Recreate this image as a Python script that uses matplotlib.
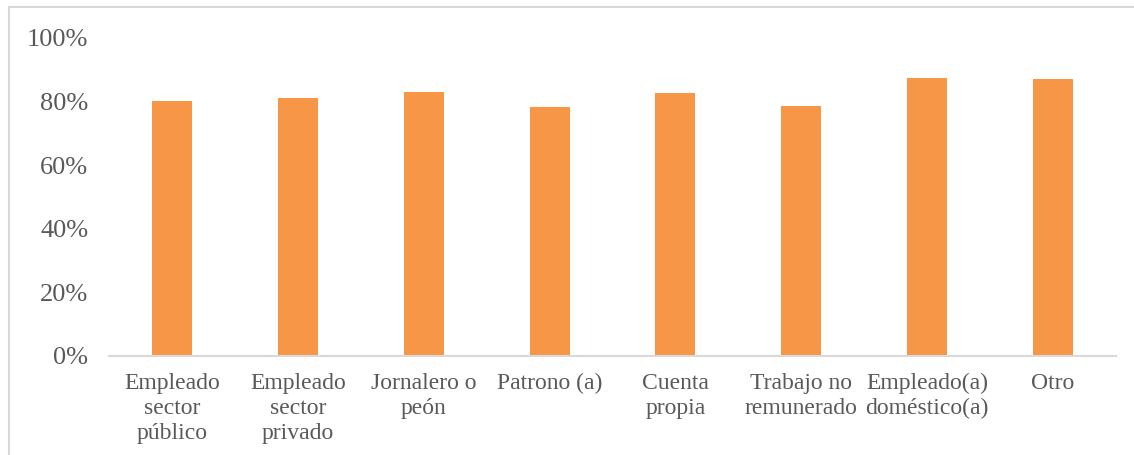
import matplotlib.pyplot as plt
from matplotlib.lines import Line2D
from matplotlib.ticker import PercentFormatter

categorias = ['Empleado\nsector\npúblico', 'Empleado\nsector\nprivado', 'Jornalero o\npeón',
              'Patrono (a)', 'Cuenta\npropia', 'Trabajo no\nremunerado',
              'Empleado(a)\ndoméstico(a)', 'Otro']
valores = [0.803, 0.812, 0.831, 0.783, 0.827, 0.785, 0.873, 0.871]

plt.rcParams['font.family'] = ['Liberation Serif', 'DejaVu Serif']

fig = plt.figure(figsize=(11.34, 4.55), dpi=100)
ax = fig.add_axes([109 / 1134, 1 - 356 / 455, (1116 - 109) / 1134, (356 - 38) / 455])

ax.bar(range(len(categorias)), valores, width=0.318, color='#F79646')

ax.set_xlim(-0.5, len(categorias) - 0.5)
ax.set_ylim(0, 1)
ax.set_yticks([0, 0.2, 0.4, 0.6, 0.8, 1.0])
ax.yaxis.set_major_formatter(PercentFormatter(1.0, decimals=0))
ax.set_xticks(range(len(categorias)))
ax.set_xticklabels(categorias, linespacing=1.25)

for s in ['top', 'right', 'left']:
    ax.spines[s].set_visible(False)
ax.spines['bottom'].set_color('#D9D9D9')
ax.spines['bottom'].set_linewidth(1.5)
ax.tick_params(axis='both', length=0, colors='#595959')
ax.tick_params(axis='x', labelsize=17, pad=12)
ax.tick_params(axis='y', labelsize=19, pad=15)

# borde del area del grafico (solo arriba e izquierda visibles)
x0, y0 = 9 / 1134, 1 - 7 / 455
fig.add_artist(Line2D([x0, 1.0], [y0, y0], transform=fig.transFigure, color='#D9D9D9', lw=1.5))
fig.add_artist(Line2D([x0, x0], [0, y0], transform=fig.transFigure, color='#D9D9D9', lw=1.5))

fig.savefig('out.png', dpi=100)
